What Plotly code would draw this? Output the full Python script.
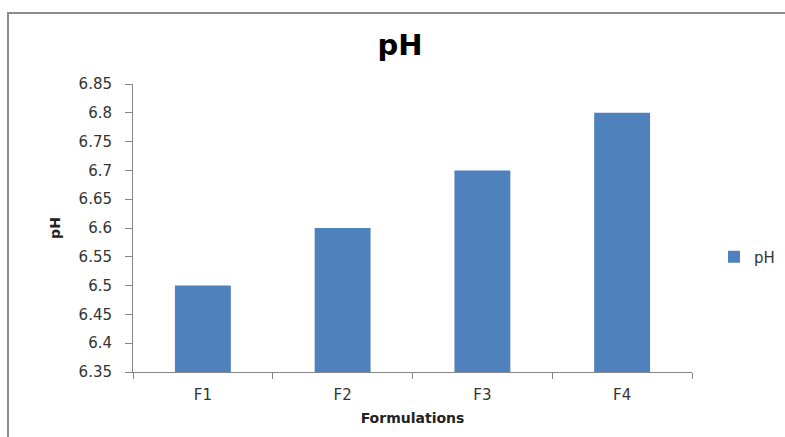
import plotly.graph_objects as go

categories = ["F1", "F2", "F3", "F4"]
ph_values = [6.5, 6.6, 6.7, 6.8]
y_ticks = [6.35, 6.4, 6.45, 6.5, 6.55, 6.6, 6.65, 6.7, 6.75, 6.8, 6.85]
y_tick_labels = ["6.35", "6.4", "6.45", "6.5", "6.55", "6.6", "6.65", "6.7", "6.75", "6.8", "6.85"]

L, R, T, B = 133, 93, 84, 65
W, H = 785, 437
pw, ph = W - L - R, H - T - B

def px(x):
    return (x - L) / pw

def py(y):
    return (H - B - y) / ph

fig = go.Figure()
fig.add_trace(go.Bar(
    x=categories, y=ph_values, name="pH",
    marker=dict(color="#4F81BD", line=dict(width=0)),
    showlegend=True,
))

tick_font = dict(family="DejaVu Sans, sans-serif", size=15, color="#333333")
title_font = dict(family="DejaVu Sans, sans-serif", size=14, color="#222222")

fig.update_layout(
    width=W, height=H,
    margin=dict(l=L, r=R, t=T, b=B, autoexpand=False),
    paper_bgcolor="white", plot_bgcolor="white",
    bargap=0.6,
    title=dict(text="<b>pH</b>", x=px(400), xref="paper", xanchor="center",
               y=1 - 45 / H, yanchor="middle",
               font=dict(family="DejaVu Sans, sans-serif", size=29, color="black")),
    xaxis=dict(
        automargin=False,
        showline=True, linecolor="#868686", linewidth=1,
        ticks="outside", ticklen=6, tickcolor="#868686",
        tickson="boundaries", ticklabelstandoff=9,
        tickfont=tick_font, showgrid=False,
        title=dict(text="<b>Formulations</b>", standoff=10, font=title_font),
    ),
    yaxis=dict(
        automargin=False,
        range=[6.35, 6.85], tickvals=y_ticks, ticktext=y_tick_labels,
        showline=True, linecolor="#868686", linewidth=1,
        ticks="outside", ticklen=7, tickcolor="#868686",
        ticklabelstandoff=10,
        tickfont=tick_font, showgrid=False, zeroline=False,
        title=dict(text="<b>pH</b>", standoff=14, font=title_font),
    ),
    legend=dict(x=px(714), y=py(257), xanchor="left", yanchor="middle",
                font=dict(family="DejaVu Sans, sans-serif", size=15, color="#333333"),
                itemwidth=30, bgcolor="rgba(0,0,0,0)"),
    shapes=[dict(type="rect", xref="paper", yref="paper",
                 x0=px(8), x1=px(790), y0=py(445), y1=py(13),
                 line=dict(color="#8C8C8C", width=2), fillcolor="rgba(0,0,0,0)",
                 layer="below")],
)

fig.write_html("out.html", config={"displayModeBar": False},
               post_script="document.body.style.margin='0';")
